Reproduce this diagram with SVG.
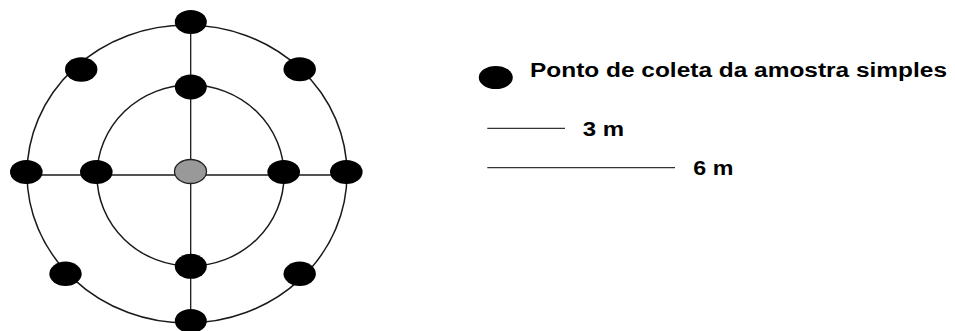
<svg xmlns="http://www.w3.org/2000/svg" width="955" height="331" viewBox="0 0 955 331">
<style>
.ring{fill:none;stroke:#1a1a1a;stroke-width:1.5}
.axis{stroke:#1a1a1a;stroke-width:1.3}
.pt{fill:#000}
.ctr{fill:#999;stroke:#222;stroke-width:1.3}
.leg{stroke:#333;stroke-width:1.2}
.lbl{font-family:"Liberation Sans",Arial,sans-serif;font-weight:bold;font-size:20px;fill:#000}
.num{font-size:21px}
</style>
<g id="connectors">
<ellipse class="ring" cx="187" cy="174" rx="160" ry="149"/>
<ellipse class="ring" cx="190.5" cy="175.5" rx="93.5" ry="90.5"/>
<line class="axis" x1="26" y1="175" x2="346" y2="175"/>
<line class="axis" x1="190.7" y1="22" x2="190.7" y2="321"/>
</g>
<g id="center"><ellipse class="ctr" cx="190.5" cy="171.5" rx="16" ry="12"/></g>
<g id="p-top-outer"><ellipse class="pt" cx="190.8" cy="22" rx="16" ry="12"/></g>
<g id="p-top-inner"><ellipse class="pt" cx="190.8" cy="87" rx="16" ry="12.5"/></g>
<g id="p-bottom-inner"><ellipse class="pt" cx="190.8" cy="266.3" rx="16" ry="12.5"/></g>
<g id="p-bottom-outer"><ellipse class="pt" cx="190.8" cy="321" rx="16" ry="12"/></g>
<g id="p-left-outer"><ellipse class="pt" cx="26.3" cy="172" rx="16.3" ry="12"/></g>
<g id="p-left-inner"><ellipse class="pt" cx="96.3" cy="172" rx="16.3" ry="12"/></g>
<g id="p-right-inner"><ellipse class="pt" cx="283.7" cy="172" rx="16.3" ry="12"/></g>
<g id="p-right-outer"><ellipse class="pt" cx="346.3" cy="172" rx="16.3" ry="12"/></g>
<g id="p-top-left"><ellipse class="pt" cx="81.2" cy="69.5" rx="16.2" ry="12.2"/></g>
<g id="p-top-right"><ellipse class="pt" cx="299.7" cy="69.2" rx="16.2" ry="12"/></g>
<g id="p-bottom-left"><ellipse class="pt" cx="65.5" cy="273.8" rx="16.2" ry="12.2"/></g>
<g id="p-bottom-right"><ellipse class="pt" cx="299.7" cy="273.8" rx="16.2" ry="12.2"/></g>
<g id="legend-point">
<ellipse class="pt" cx="495.8" cy="77.5" rx="17" ry="11.5"/>
<text class="lbl" x="530" y="76.5" textLength="417" lengthAdjust="spacingAndGlyphs">Ponto de coleta da amostra simples</text>
</g>
<g id="legend-3m">
<line class="leg" x1="487.3" y1="128.3" x2="565" y2="128.3"/>
<text class="lbl num" x="582.7" y="136" textLength="41.3" lengthAdjust="spacingAndGlyphs">3 m</text>
</g>
<g id="legend-6m">
<line class="leg" x1="487.3" y1="167.7" x2="675" y2="167.7"/>
<text class="lbl num" x="693.3" y="174.5" textLength="40" lengthAdjust="spacingAndGlyphs">6 m</text>
</g>
</svg>
